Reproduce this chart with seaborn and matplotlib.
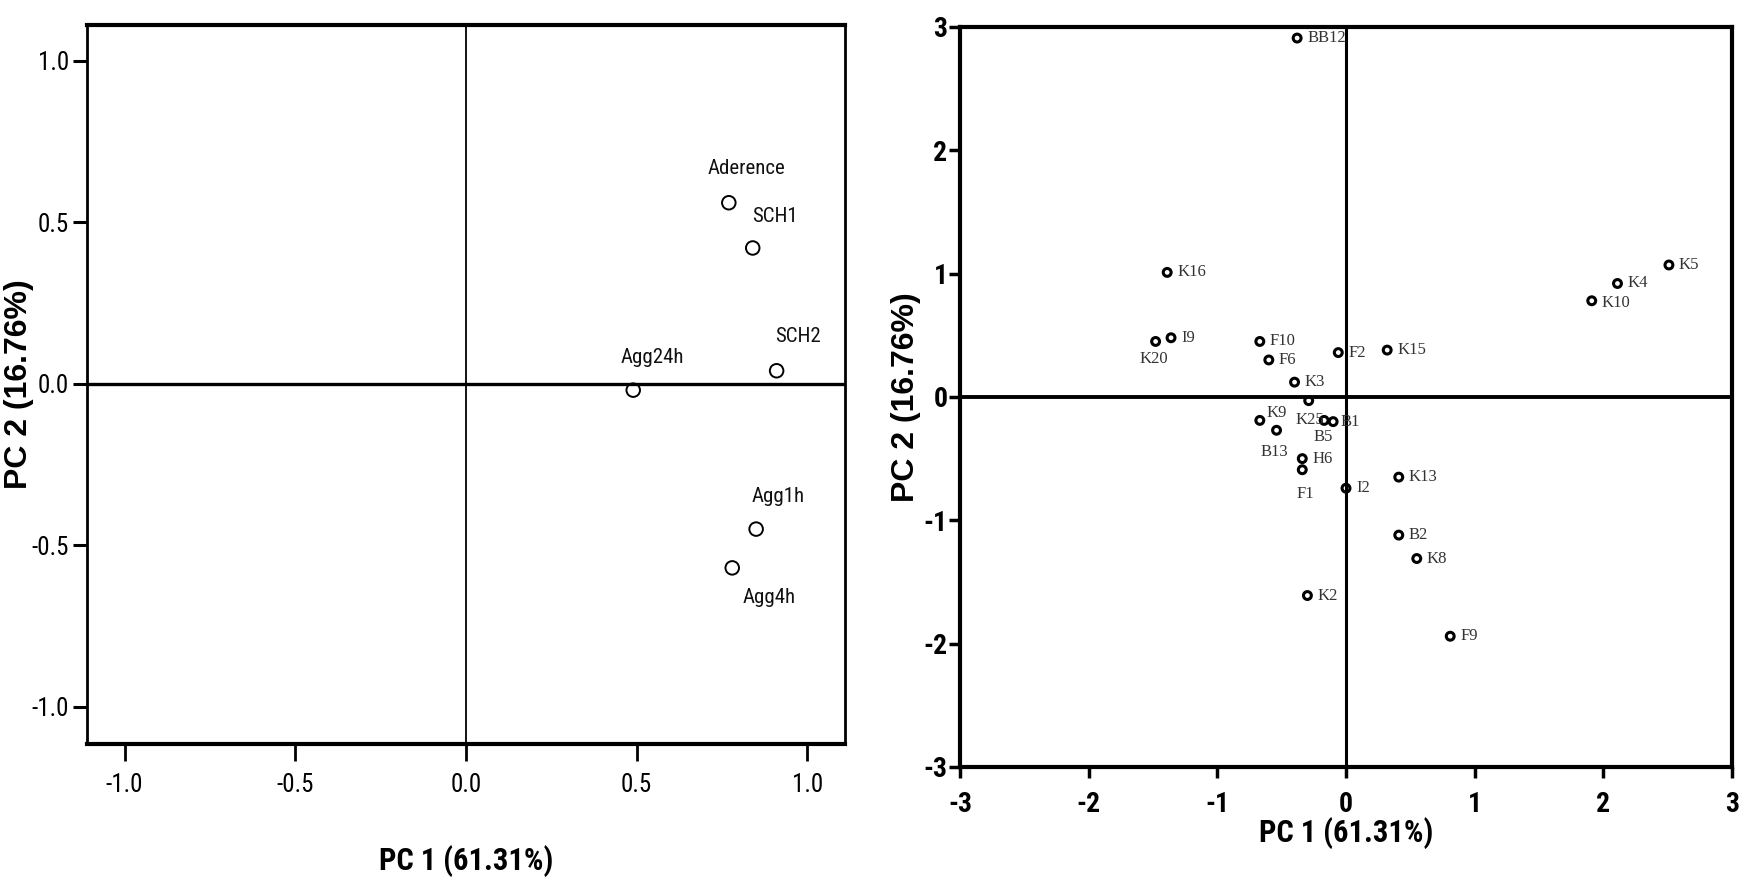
import matplotlib
matplotlib.use('Agg')
import matplotlib.pyplot as plt
import seaborn as sns
import pandas as pd
from matplotlib import font_manager

sns.set_style('white')
plt.rcParams.update({'axes.unicode_minus': False, 'text.color': 'black',
                     'axes.labelcolor': 'black', 'xtick.color': 'black',
                     'ytick.color': 'black'})

# loadings (left panel)
var_names = ['Aderence', 'SCH1', 'SCH2', 'Agg24h', 'Agg1h', 'Agg4h']
var_pc1 = [0.77, 0.84, 0.91, 0.49, 0.85, 0.78]
var_pc2 = [0.56, 0.42, 0.04, -0.02, -0.45, -0.57]

# scores (right panel)
strain_names = ['BB12', 'K16', 'K20', 'I9', 'F10', 'F6', 'F2', 'K15', 'K3', 'K25',
                'K9', 'B13', 'B5', 'B1', 'H6', 'F1', 'I2', 'K13', 'B2', 'K8',
                'K2', 'F9', 'K10', 'K4', 'K5']
strain_pc1 = [-0.38, -1.39, -1.48, -1.36, -0.67, -0.60, -0.06, 0.32, -0.40, -0.29,
              -0.67, -0.54, -0.17, -0.10, -0.34, -0.34, 0.00, 0.41, 0.41, 0.55,
              -0.30, 0.81, 1.91, 2.11, 2.51]
strain_pc2 = [2.91, 1.01, 0.45, 0.48, 0.45, 0.30, 0.36, 0.38, 0.12, -0.03,
              -0.19, -0.27, -0.19, -0.20, -0.50, -0.59, -0.74, -0.65, -1.12, -1.31,
              -1.61, -1.94, 0.78, 0.92, 1.07]

xlab = 'PC 1 (61.31%)'
ylab = 'PC 2 (16.76%)'

# label placement (pixels, dy positive = up)
var_offsets = {'Aderence': (18, 34), 'SCH1': (22, 31), 'SCH2': (21, 34),
               'Agg24h': (19, 33), 'Agg1h': (22, 33), 'Agg4h': (37, -30)}
strain_offsets = {'K20': (-2, -18, 'center'), 'K9': (7, 7, 'left'),
                  'K25': (1, -19, 'center'), 'B5': (-1, -17, 'center'),
                  'B1': (7, 0, 'left'), 'B13': (-2, -22, 'center'),
                  'F1': (3, -24, 'center'), 'K10': (10, -2, 'left')}

# a narrow sans if one is installed, otherwise plain Liberation Sans a bit smaller
names = {f.name for f in font_manager.fontManager.ttflist}
narrow = None
for cand in ['Liberation Sans Narrow', 'Arial Narrow', 'Roboto Condensed',
             'DejaVu Sans Condensed', 'Open Sans Condensed']:
    if cand in names:
        narrow = cand
        break
if narrow is None:
    narrow, tick_fs, rtick_fs, xlab_fs = 'Liberation Sans', 16, 19, 20
else:
    tick_fs, rtick_fs, xlab_fs = 18, 20, 22
serif = 'Liberation Serif'

loadings = pd.DataFrame({'name': var_names, 'pc1': var_pc1, 'pc2': var_pc2})
scores = pd.DataFrame({'name': strain_names, 'pc1': strain_pc1, 'pc2': strain_pc2})

fig = plt.figure(figsize=(17.5, 8.84), dpi=100)
ax1 = fig.add_axes([0.0497, 0.1584, 0.4331, 0.8133])
ax2 = fig.add_axes([0.5486, 0.1324, 0.4411, 0.8371])

# ---- left: loadings
ax1.axhline(0, color='black', lw=2.4, zorder=1)
ax1.axvline(0, color='black', lw=1.3, zorder=1)
sns.scatterplot(data=loadings, x='pc1', y='pc2', ax=ax1, marker='o', s=95,
                facecolor='none', edgecolor='black', linewidth=1.4, zorder=3)
for _, r in loadings.iterrows():
    dx, dy = var_offsets[r['name']]
    ax1.annotate(r['name'], (r['pc1'], r['pc2']), xytext=(dx, dy),
                 textcoords='offset pixels', ha='center', va='center',
                 fontsize=15, family=narrow, color='#111111')
ax1.set_xlim(-1.11, 1.11)
ax1.set_ylim(-1.115, 1.11)
ticks = [-1.0, -0.5, 0.0, 0.5, 1.0]
ax1.set_xticks(ticks, [f'{t:.1f}' for t in ticks])
ax1.set_yticks(ticks, [f'{t:.1f}' for t in ticks])
ax1.tick_params(axis='x', direction='out', length=12, width=2, pad=9,
                labelsize=tick_fs, bottom=True)
ax1.tick_params(axis='y', direction='out', length=10, width=2.2, pad=3,
                labelsize=tick_fs, left=True)
for lab in ax1.get_xticklabels() + ax1.get_yticklabels():
    lab.set_family(narrow)
for side, lw in [('top', 3), ('bottom', 3), ('left', 2), ('right', 2)]:
    ax1.spines[side].set_linewidth(lw)
    ax1.spines[side].set_color('black')
ax1.set_xlabel(xlab, fontsize=xlab_fs, fontweight='bold', family=narrow)
ax1.set_ylabel(ylab, fontsize=23, fontweight='bold', family='Liberation Sans')
ax1.xaxis.set_label_coords(0.5, -0.14)
ax1.yaxis.set_label_coords(-0.07, 0.5)

# ---- right: scores
ax2.axhline(0, color='black', lw=2.8, zorder=1)
ax2.axvline(0, color='black', lw=2.2, zorder=1)
sns.scatterplot(data=scores, x='pc1', y='pc2', ax=ax2, marker='o', s=32,
                facecolor='none', edgecolor='black', linewidth=2.2, zorder=3)
for _, r in scores.iterrows():
    dx, dy, ha = strain_offsets.get(r['name'], (10, 0, 'left'))
    ax2.annotate(r['name'], (r['pc1'], r['pc2']), xytext=(dx, dy),
                 textcoords='offset pixels', ha=ha, va='center',
                 fontsize=12, family=serif, color='#333333')
ax2.set_xlim(-3, 3)
ax2.set_ylim(-3, 3)
ax2.set_xticks(range(-3, 4))
ax2.set_yticks(range(-3, 4))
ax2.tick_params(axis='both', direction='out', length=8, width=2.5,
                labelsize=rtick_fs, bottom=True, left=True)
ax2.tick_params(axis='x', pad=9)
ax2.tick_params(axis='y', pad=1)
for lab in ax2.get_xticklabels() + ax2.get_yticklabels():
    lab.set_family(narrow)
    lab.set_fontweight('bold')
for side in ['top', 'bottom', 'left', 'right']:
    ax2.spines[side].set_linewidth(3)
    ax2.spines[side].set_color('black')
ax2.set_xlabel(xlab, fontsize=xlab_fs, fontweight='bold', family=narrow)
ax2.set_ylabel(ylab, fontsize=23, fontweight='bold', family='Liberation Sans')
ax2.xaxis.set_label_coords(0.5, -0.068)
ax2.yaxis.set_label_coords(-0.05, 0.5)

fig.savefig('out.png', dpi=100)
